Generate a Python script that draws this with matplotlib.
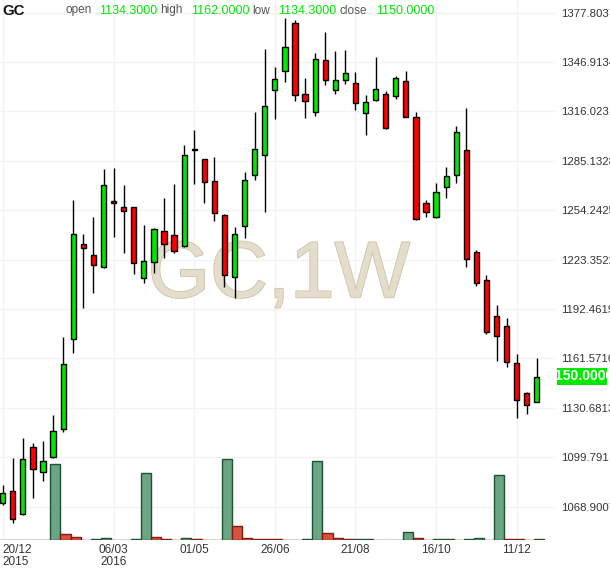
import matplotlib
matplotlib.use("Agg")
import matplotlib.pyplot as plt
from matplotlib.patches import Rectangle
from matplotlib.transforms import Bbox, TransformedBbox
import matplotlib.patheffects as pe

plt.rcParams['font.family'] = ['Liberation Sans', 'DejaVu Sans']

# weekly GC candles, 20/12/2015 .. 25/12/2016
opens = [1071.0, 1078.7, 1064.2, 1106.0, 1090.4, 1099.8, 1117.3, 1173.6, 1233.0, 1226.1,
         1218.8, 1260.1, 1256.1, 1256.1, 1211.7, 1221.7, 1241.1, 1238.6, 1231.9, 1292.1,
         1286.1, 1272.4, 1251.5, 1212.5, 1244.2, 1276.1, 1288.6, 1329.3, 1341.5, 1371.2,
         1326.8, 1315.5, 1348.0, 1329.3, 1335.9, 1333.8, 1314.9, 1323.0, 1326.8, 1325.5,
         1335.0, 1312.8, 1258.6, 1249.9, 1269.0, 1276.1, 1291.8, 1228.0, 1210.5, 1188.0,
         1181.7, 1158.6, 1139.8, 1134.3]
highs = [1082.5, 1099.2, 1111.7, 1108.6, 1110.2, 1126.1, 1174.8, 1260.5, 1239.2, 1249.9,
         1279.9, 1280.5, 1269.9, 1256.3, 1244.9, 1243.4, 1261.7, 1270.5, 1294.9, 1304.3,
         1286.3, 1287.4, 1251.7, 1244.0, 1278.0, 1315.9, 1354.9, 1343.7, 1374.3, 1373.0,
         1336.8, 1352.4, 1365.7, 1353.7, 1354.3, 1340.7, 1326.2, 1349.9, 1329.0, 1338.2,
         1341.2, 1315.9, 1260.7, 1271.1, 1281.1, 1306.8, 1318.0, 1229.4, 1213.8, 1195.0,
         1186.7, 1164.2, 1140.8, 1162.0]
lows = [1070.0, 1058.9, 1063.5, 1074.2, 1085.2, 1099.5, 1115.8, 1165.2, 1193.3, 1202.7,
        1218.3, 1237.4, 1227.7, 1214.2, 1209.0, 1214.9, 1224.2, 1227.7, 1231.5, 1270.5,
        1258.6, 1247.7, 1206.5, 1199.2, 1236.7, 1272.9, 1253.4, 1311.1, 1334.3, 1322.4,
        1312.1, 1313.4, 1332.8, 1327.2, 1333.0, 1316.8, 1301.1, 1322.6, 1305.3, 1323.7,
        1312.4, 1248.4, 1250.2, 1249.7, 1261.7, 1271.5, 1219.0, 1207.1, 1176.9, 1160.2,
        1156.1, 1124.2, 1126.7, 1134.3]
closes = [1077.7, 1061.0, 1098.5, 1092.3, 1097.7, 1116.4, 1157.9, 1239.2, 1230.5, 1219.9,
          1269.9, 1258.6, 1253.6, 1221.1, 1222.4, 1242.6, 1233.2, 1228.6, 1288.6, 1291.9,
          1271.9, 1252.4, 1213.6, 1239.6, 1273.0, 1292.4, 1319.3, 1336.2, 1356.2, 1326.2,
          1322.4, 1348.7, 1335.9, 1335.5, 1340.1, 1321.2, 1321.8, 1329.9, 1305.5, 1336.8,
          1312.8, 1248.6, 1253.0, 1265.5, 1275.5, 1303.0, 1223.6, 1208.6, 1178.3, 1175.5,
          1159.6, 1135.4, 1132.3, 1150.0]
volumes = [0.3, 0.5, 0.4, 0.3, 0.2, 380, 33, 18, 3.5, 4.0,
           10, 0.4, 0.5, 4, 334, 18, 4.2, 3.8, 10, 4,
           0.5, 0.3, 404, 73, 13, 4.5, 4.2, 4, 0.4, 0.3,
           4, 398, 38, 10, 4.2, 4.4, 4.6, 0.4, 0.5, 0.3,
           43, 13, 0.4, 4, 4.2, 0.4, 4, 10, 0.4, 328,
           8.5, 8.3, 0.4, 4]

price_ticks = [1068.9007, 1099.791, 1130.6813, 1161.5716, 1192.4619, 1223.3522,
               1254.2425, 1285.1328, 1316.0231, 1346.9134, 1377.8037]
price_labels = ['1068.9007', '1099.791', '1130.6813', '1161.5716', '1192.4619', '1223.3522',
                '1254.2425', '1285.1328', '1316.0231', '1346.9134', '1377.8037']
date_ticks = [0, 11, 19, 27, 35, 43, 51]
date_labels = ['20/12\n2015', '06/03\n2016', '01/05', '26/06', '21/08', '16/10', '11/12']

GREEN = '#00e800'
RED = '#ff0000'

fig = plt.figure(figsize=(6.1, 5.68), dpi=100)
ax = fig.add_axes([0, 27.7 / 568, 555 / 610, 540.3 / 568])
ax.set_xlim(-0.27, 54.8)
ax.set_ylim(1047.9, 1385.7)

x = list(range(len(opens)))

# volume at the bottom, in axes fraction so it does not depend on price scale
vol_max = 2701.0
vol_cols, vol_edges = [], []
for i, v in enumerate(volumes):
    up = i > 0 and v > volumes[i - 1]
    vol_cols.append('#6ba583' if up else '#d9523f')
    vol_edges.append('#1e5232' if up else '#7d1d10')
ax.bar([i - 0.27 for i in x], [v / vol_max for v in volumes], width=1.0, align='edge',
       bottom=0, color=vol_cols, edgecolor=vol_edges, linewidth=1.0,
       transform=ax.get_xaxis_transform(), zorder=1)

# candles
ax.vlines(x, lows, highs, color='black', linewidth=1.0, zorder=2)
body_bottom = [min(o, c) for o, c in zip(opens, closes)]
body_height = [max(abs(c - o), 0.4) for o, c in zip(opens, closes)]
body_color = [GREEN if c >= o else RED for o, c in zip(opens, closes)]
ax.bar(x, body_height, bottom=body_bottom, width=0.52, color=body_color,
       edgecolor='black', linewidth=1.0, zorder=3)

# watermark
ax.text(279 / 555, (540.3 - 297.3) / 540.3, 'GC,1W', transform=ax.transAxes,
        ha='center', va='baseline', fontsize=57.6, color='#e4ddcc', zorder=0.8,
        path_effects=[pe.withStroke(linewidth=1.2, foreground='#cdc2a6')])

# axes style
ax.set_axisbelow(True)
ax.grid(True, color='#f3f3f3', linewidth=1.0)
for s in ax.spines.values():
    s.set_visible(False)
ax.yaxis.tick_right()
ax.set_yticks(price_ticks)
ax.set_yticklabels(price_labels)
ax.set_xticks(date_ticks)
ax.set_xticklabels(date_labels, linespacing=0.95)
ax.tick_params(axis='y', length=0, pad=4.5, labelsize=8.2, labelcolor='#333333')
ax.tick_params(axis='x', length=0, pad=3, labelsize=8.5, labelcolor='#333333')
ax.get_xticklabels()[0].set_ha('left')

# header
fig.text(2 / 610, 1 - 15 / 568, 'GC', fontsize=10.8, fontweight='bold', color='#111111',
         va='baseline')
header = [(65, 'open', '#555555'), (99, '1134.3000', GREEN),
          (160, 'high', '#555555'), (191, '1162.0000', GREEN),
          (252, 'low', '#555555'), (278, '1134.3000', GREEN),
          (339, 'close', '#555555'), (376, '1150.0000', GREEN)]
for px, txt, col in header:
    fig.text(px / 610, 1 - 13.5 / 568, txt, fontsize=8.5 if col != GREEN else 9,
             color=col, va='baseline')

# last price tag on the right scale
tag_y = 568 - 376
x0, x1 = 556.7 / 610, 606.7 / 610
y0, y1 = (tag_y - 8.5) / 568, (tag_y + 8.5) / 568
fig.patches.append(Rectangle((x0, y0), x1 - x0, y1 - y0, transform=fig.transFigure,
                             facecolor='#00e800', edgecolor='none', zorder=5))
t = fig.text(548 / 610, tag_y / 568, '1150.0000', fontsize=10, fontweight='bold',
             color='white', va='center', ha='left', zorder=6)
t.set_clip_box(TransformedBbox(Bbox([[x0, y0], [x1, y1]]), fig.transFigure))

fig.savefig('out.png', dpi=100)
